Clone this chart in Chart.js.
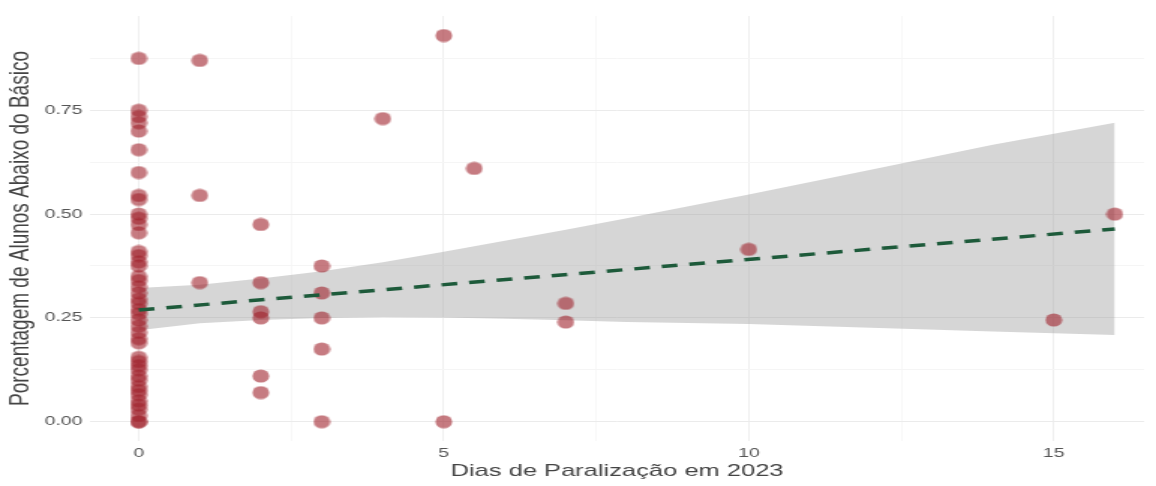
<!DOCTYPE html>
<html>
<head>
<meta charset="utf-8">
<script src="https://cdn.jsdelivr.net/npm/chart.js@4.4.1/dist/chart.umd.min.js"></script>
<style>
  html, body { margin: 0; padding: 0; background: #ffffff; overflow: hidden; }
  #wrap {
    position: absolute; left: 0; top: 0;
    width: 771px; height: 486px;
    transform: scaleX(1.4994); transform-origin: 0 0;
  }
</style>
</head>
<body>
<div id="wrap"><canvas id="chart"></canvas></div>
<script>
// Days of stoppage in 2023 (x) and share of students below basic level (y)
const dias = [
  0,0,0,0,0,0,0,0,0,0,0,0,0,0,0,0,0,0,0,0,0,0,0,
  0,0,0,0,0,0,0,0,0,0,0,0,0,0,0,0,0,0,0,0,0,0,
  1,1,1,
  2,2,2,2,2,2,
  3,3,3,3,3,
  4,
  5,5,
  5.5,
  7,7,
  10,
  15,
  16
];
const porcentagem = [
  0.875,0.75,0.735,0.72,0.70,0.655,0.60,0.545,0.535,0.50,0.49,0.475,0.455,0.41,0.40,0.385,0.375,0.35,0.34,0.325,0.31,0.295,0.285,
  0.27,0.26,0.245,0.23,0.215,0.20,0.19,0.155,0.145,0.135,0.125,0.11,0.10,0.085,0.075,0.065,0.05,0.04,0.03,0.015,0.0,0.0,
  0.87,0.545,0.335,
  0.475,0.335,0.265,0.25,0.11,0.07,
  0.375,0.31,0.25,0.175,0.0,
  0.73,
  0.93,0.0,
  0.61,
  0.285,0.24,
  0.415,
  0.245,
  0.50
];

// Fitted linear trend (end points) and its confidence band
const tendenciaX = [0, 16];
const tendenciaY = [0.269, 0.464];
const faixaX        = [0,     1,     2,     3,     4,     5,     6,     7,     8,     10,    12,    14,    16];
const faixaSuperior = [0.322, 0.330, 0.345, 0.362, 0.384, 0.409, 0.436, 0.462, 0.490, 0.547, 0.607, 0.667, 0.720];
const faixaInferior = [0.220, 0.237, 0.245, 0.250, 0.252, 0.251, 0.248, 0.244, 0.240, 0.235, 0.226, 0.217, 0.209];

// Axis ticks
const xTicksMajor = [0, 5, 10, 15];
const xTickLabels = ['0', '5', '10', '15'];
const xTicksMinor = [2.5, 7.5, 12.5];
const yTicksMajor = [0, 0.25, 0.5, 0.75];
const yTickLabels = ['0.00', '0.25', '0.50', '0.75'];
const yTicksMinor = [0.125, 0.375, 0.625, 0.875];

const tituloX = 'Dias de Paralização em 2023';
const tituloY = 'Porcentagem de Alunos Abaixo do Básico';

const FONT = "'Liberation Sans', Arial, sans-serif";

// Slightly oval marker (the canvas is stretched horizontally)
function makeDot(w, h, color) {
  const c = document.createElement('canvas');
  c.width = w; c.height = h;
  const g = c.getContext('2d');
  g.fillStyle = color;
  g.beginPath();
  g.ellipse(w / 2, h / 2, w / 2 - 0.4, h / 2 - 0.4, 0, 0, Math.PI * 2);
  g.fill();
  return c;
}
const dot = makeDot(12, 14, 'rgba(160, 35, 45, 0.6)');

const pontos = dias.map((d, i) => ({ x: d, y: porcentagem[i] }));
const superior = faixaX.map((x, i) => ({ x, y: faixaSuperior[i] }));
const inferior = faixaX.map((x, i) => ({ x, y: faixaInferior[i] }));
const tendencia = tendenciaX.map((x, i) => ({ x, y: tendenciaY[i] }));

function setTicks(major, minor) {
  return function (scale) {
    scale.ticks = major.concat(minor).sort((a, b) => a - b).map(v => ({ value: v }));
  };
}
function labelFrom(major, labels) {
  return function (value) {
    const i = major.findIndex(m => Math.abs(m - value) < 1e-9);
    return i >= 0 ? labels[i] : '';
  };
}
function gridColor(major) {
  return function (ctx) {
    const v = ctx.tick ? ctx.tick.value : null;
    return major.some(m => Math.abs(m - v) < 1e-9) ? '#ebebeb' : '#f5f5f5';
  };
}

new Chart(document.getElementById('chart'), {
  type: 'scatter',
  data: {
    datasets: [
      {
        type: 'line', data: tendencia, order: 0,
        borderColor: '#1d5a3a', borderWidth: 3.5, borderDash: [10.5, 8],
        pointRadius: 0, fill: false, tension: 0
      },
      {
        type: 'scatter', data: pontos, order: 1,
        pointStyle: dot, pointRadius: 7, pointHoverRadius: 7
      },
      {
        type: 'line', data: superior, order: 2,
        borderWidth: 0, pointRadius: 0, tension: 0,
        fill: '+1', backgroundColor: 'rgba(153,153,153,0.4)'
      },
      {
        type: 'line', data: inferior, order: 3,
        borderWidth: 0, pointRadius: 0, tension: 0, fill: false
      }
    ]
  },
  options: {
    responsive: true,
    maintainAspectRatio: false,
    animation: false,
    devicePixelRatio: 1,
    layout: { padding: { top: 16, right: 0, bottom: 0, left: 0 } },
    plugins: { legend: { display: false }, tooltip: { enabled: false } },
    scales: {
      x: {
        type: 'linear', min: -0.8, max: 16.48,
        afterBuildTicks: setTicks(xTicksMajor, xTicksMinor),
        afterFit: s => { s.height = 45; },
        border: { display: false },
        grid: { color: gridColor(xTicksMajor), lineWidth: 0.8, drawTicks: false },
        ticks: {
          callback: labelFrom(xTicksMajor, xTickLabels),
          autoSkip: false, maxRotation: 0, padding: 5,
          color: '#555555', font: { family: FONT, size: 13 }
        },
        title: {
          display: true, text: tituloX, color: '#444444',
          font: { family: FONT, size: 17 }, padding: { top: 0, bottom: 4 }
        }
      },
      y: {
        type: 'linear', min: -0.0465, max: 0.977,
        afterBuildTicks: setTicks(yTicksMajor, yTicksMinor),
        afterFit: s => { s.width = 60; },
        border: { display: false },
        grid: { color: gridColor(yTicksMajor), lineWidth: 1, drawTicks: false },
        ticks: {
          callback: labelFrom(yTicksMajor, yTickLabels),
          autoSkip: false, padding: 5,
          color: '#555555', font: { family: FONT, size: 13 }
        },
        title: {
          display: true, text: tituloY, color: '#444444',
          font: { family: FONT, size: 19 }, padding: { top: 2, bottom: 0 }
        }
      }
    }
  }
});
</script>
</body>
</html>
